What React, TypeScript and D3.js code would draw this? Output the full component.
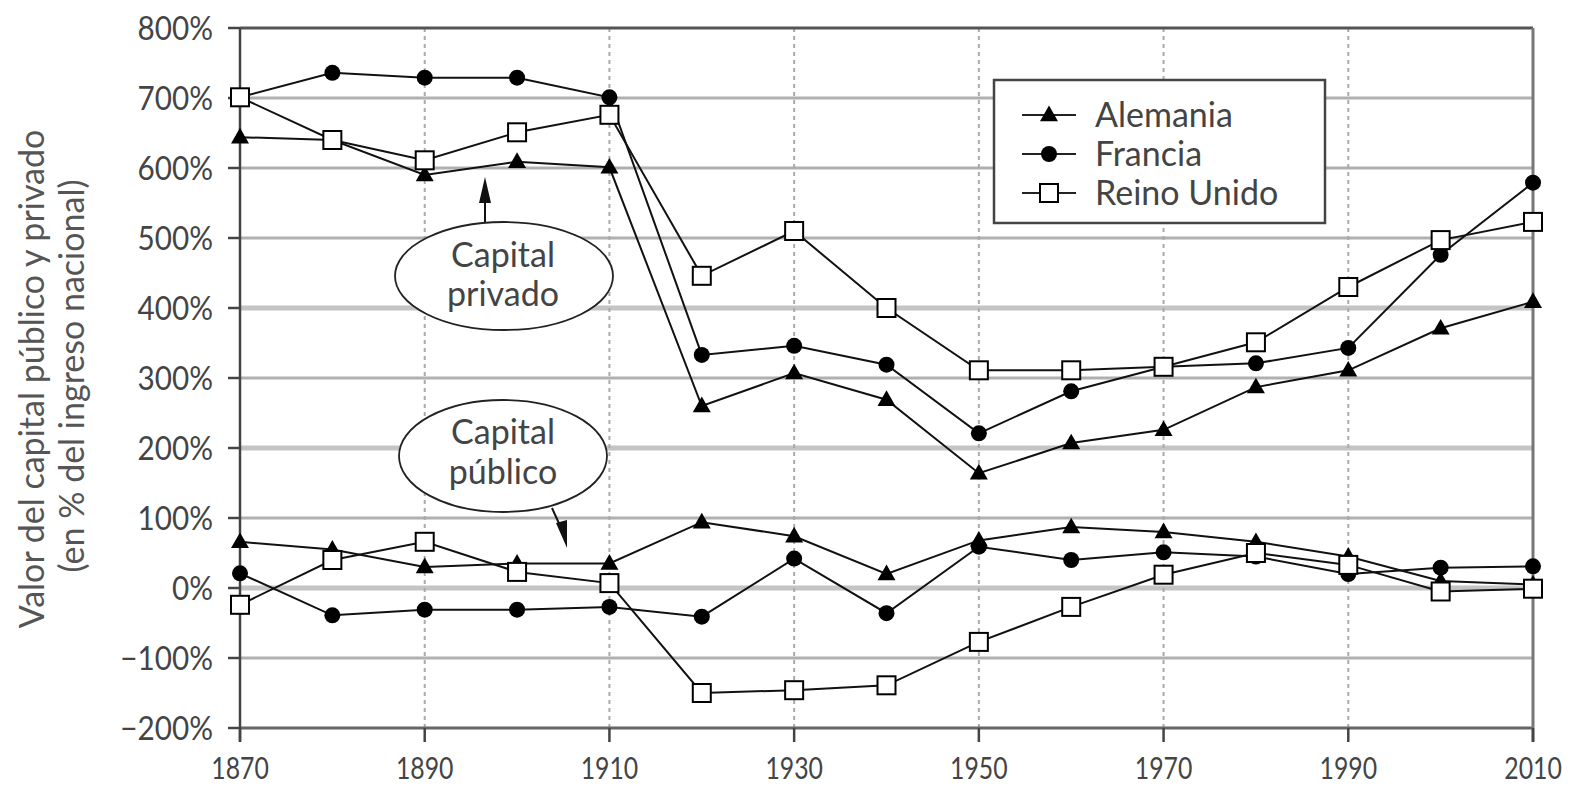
import * as d3 from "d3";

const years = [1870, 1880, 1890, 1900, 1910, 1920, 1930, 1940, 1950, 1960, 1970, 1980, 1990, 2000, 2010];
const alemaniaPrivado = [644, 640, 590, 609, 601, 260, 307, 269, 164, 207, 226, 287, 311, 371, 409];
const franciaPrivado = [701, 736, 729, 729, 701, 333, 346, 319, 221, 281, 316, 321, 343, 476, 579];
const reinoUnidoPrivado = [701, 640, 611, 651, 676, 446, 510, 400, 311, 311, 316, 351, 430, 497, 523];
const alemaniaPublico = [66, 55, 30, 35, 35, 94, 74, 20, 68, 87, 80, 66, 45, 10, 5];
const franciaPublico = [21, -39, -31, -31, -27, -41, 42, -36, 59, 40, 51, 45, 20, 29, 31];
const reinoUnidoPublico = [-24, 40, 66, 23, 7, -150, -146, -139, -77, -27, 19, 50, 33, -5, -1];

const yTicks = [-200, -100, 0, 100, 200, 300, 400, 500, 600, 700, 800];
const xTicks = [1870, 1890, 1910, 1930, 1950, 1970, 1990, 2010];
const countries = ["Alemania", "Francia", "Reino Unido"];

const W = 1573;
const H = 786;
const FONT = "Lato, 'Open Sans', sans-serif";
const TEXT = "#444";

const x = d3.scaleLinear().domain([1870, 2010]).range([240, 1533]);
const y = d3.scaleLinear().domain([-200, 800]).range([728, 28]);

type Kind = "tri" | "dot" | "sq";

function Marker({ cx, cy, kind }: { cx: number; cy: number; kind: Kind }) {
  if (kind === "tri") {
    const p = d3.symbol(d3.symbolTriangle, 140)();
    return <path d={p ?? ""} transform={`translate(${cx},${cy + 1})`} fill="#000" />;
  }
  if (kind === "dot") return <circle cx={cx} cy={cy} r={8} fill="#000" />;
  return <rect x={cx - 9} y={cy - 9} width={18} height={18} fill="#fff" stroke="#000" strokeWidth={2} />;
}

function Series({ values, kind }: { values: number[]; kind: Kind }) {
  const line = d3
    .line<number>()
    .x((_, i) => x(years[i]))
    .y((d) => y(d));
  return (
    <g>
      <path d={line(values) ?? ""} fill="none" stroke="#111" strokeWidth={2} />
      {values.map((v, i) => (
        <Marker key={i} cx={x(years[i])} cy={y(v)} kind={kind} />
      ))}
    </g>
  );
}

// squeezed text (the original face has narrow digits)
function SText({ tx, ty, sx, anchor, size, children }: { tx: number; ty: number; sx: number; anchor: string; size: number; children: any }) {
  return (
    <g transform={`translate(${tx},${ty}) scale(${sx},1)`}>
      <text textAnchor={anchor} dy="0.36em" fontSize={size} fill={TEXT}>
        {children}
      </text>
    </g>
  );
}

export default function App() {
  const kinds: Kind[] = ["tri", "dot", "sq"];
  const label = (v: number) => (v < 0 ? "\u2212" + Math.abs(v) : String(v)) + "%";

  return (
    <svg width={W} height={H} style={{ position: "absolute", left: 0, top: 0, background: "#fff" }} fontFamily={FONT}>
      {/* horizontal grid */}
      {yTicks.slice(1, -1).map((t) => {
        const thick = t === 0 || t === 200 || t === 400;
        return (
          <line
            key={t}
            x1={x(1870)}
            x2={x(2010)}
            y1={y(t)}
            y2={y(t)}
            stroke={thick ? "#c4c4c4" : "#b0b0b0"}
            strokeWidth={thick ? 5 : 3}
          />
        );
      })}
      {/* vertical dashed grid */}
      {xTicks.slice(1, -1).map((t) => (
        <line key={t} x1={x(t)} x2={x(t)} y1={y(800)} y2={y(-200)} stroke="#aaa" strokeWidth={2} strokeDasharray="4,4" />
      ))}
      {/* frame */}
      <line x1={x(1870)} x2={x(2010)} y1={y(800)} y2={y(800)} stroke="#555" strokeWidth={3} />
      <line x1={x(1870)} x2={x(2010)} y1={y(-200)} y2={y(-200)} stroke="#666" strokeWidth={3} />
      <line x1={x(2010)} x2={x(2010)} y1={y(800)} y2={y(-200) + 14} stroke="#777" strokeWidth={3} />
      <line x1={x(1870)} x2={x(1870)} y1={y(800)} y2={y(-200) + 14} stroke="#444" strokeWidth={2.5} />
      {/* y ticks */}
      {yTicks.map((t) => (
        <g key={t}>
          <line x1={x(1870) - 12} x2={x(1870)} y1={y(t)} y2={y(t)} stroke="#444" strokeWidth={2.5} />
          <SText tx={213} ty={y(t)} sx={0.9} anchor="end" size={33}>
            {label(t)}
          </SText>
        </g>
      ))}
      {/* x ticks */}
      {xTicks.map((t) => (
        <g key={t}>
          <line x1={x(t)} x2={x(t)} y1={y(-200)} y2={y(-200) + 14} stroke="#444" strokeWidth={2.5} />
          <SText tx={x(t)} ty={768} sx={0.8} anchor="middle" size={31}>
            {t}
          </SText>
        </g>
      ))}
      {/* axis title */}
      <g transform="translate(32,379) rotate(-90)">
        <text textAnchor="middle" dy="0.35em" fontSize={34} fill="#555">
          Valor del capital público y privado
        </text>
      </g>
      <g transform="translate(72,376) rotate(-90)">
        <text textAnchor="middle" dy="0.35em" fontSize={34} fill="#555">
          (en % del ingreso nacional)
        </text>
      </g>

      {/* annotations */}
      <ellipse cx={504} cy={276} rx={109} ry={54} fill="#fff" stroke="#222" strokeWidth={1.8} />
      <text x={503} y={255} dy="0.35em" textAnchor="middle" fontSize={34} fill={TEXT}>Capital</text>
      <text x={503} y={294} dy="0.35em" textAnchor="middle" fontSize={34} fill={TEXT}>privado</text>
      <line x1={485} x2={485} y1={222} y2={196} stroke="#111" strokeWidth={2} />
      <path d="M485,177 L479,203 L491,203 Z" fill="#111" />

      <ellipse cx={503} cy={456} rx={104} ry={56} fill="#fff" stroke="#222" strokeWidth={1.8} />
      <text x={503} y={432} dy="0.35em" textAnchor="middle" fontSize={34} fill={TEXT}>Capital</text>
      <text x={503} y={472} dy="0.35em" textAnchor="middle" fontSize={34} fill={TEXT}>público</text>
      <line x1={552} x2={562} y1={508} y2={530} stroke="#111" strokeWidth={2} />
      <path d="M567,548 L556,523 L567,520 Z" fill="#111" />

      {/* series */}
      <Series values={alemaniaPublico} kind="tri" />
      <Series values={franciaPublico} kind="dot" />
      <Series values={reinoUnidoPublico} kind="sq" />
      <Series values={alemaniaPrivado} kind="tri" />
      <Series values={franciaPrivado} kind="dot" />
      <Series values={reinoUnidoPrivado} kind="sq" />

      {/* legend */}
      <rect x={994} y={80} width={331} height={143} fill="#fff" stroke="#444" strokeWidth={2.5} />
      {countries.map((c, i) => {
        const ly = [115, 154, 193][i];
        return (
          <g key={c}>
            <line x1={1022} x2={1076} y1={ly} y2={ly} stroke="#222" strokeWidth={2} />
            <Marker cx={1049} cy={ly} kind={kinds[i]} />
            <text x={1095} y={ly} dy="0.36em" fontSize={34} fill={TEXT}>
              {c}
            </text>
          </g>
        );
      })}
    </svg>
  );
}
